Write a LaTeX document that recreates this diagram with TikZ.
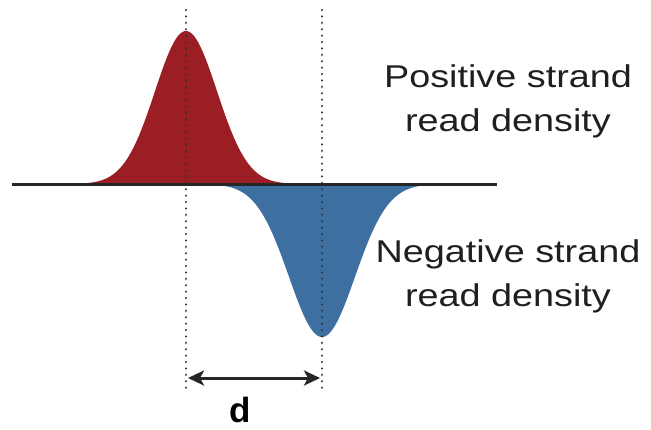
\documentclass[tikz,border=0pt]{standalone}
\usepackage{fontspec}
\setmainfont{Liberation Sans}
\usetikzlibrary{arrows.meta}
\definecolor{posred}{RGB}{155,30,36}
\definecolor{negblue}{RGB}{62,111,161}
\definecolor{guide}{RGB}{50,50,50}
\tikzset{
  lbl/.style={align=center, font=\fontsize{31.5}{44}\selectfont, text=black!88},
  guideline/.style={guide, line width=2.4pt, line cap=round, dash pattern=on 0.1pt off 6.3pt},
}
\begin{document}
\begin{tikzpicture}[x=1pt,y=-1pt]
\useasboundingbox (0,0) rectangle (651,429);
% densities
\fill[posred] plot[domain=70:300, samples=150, smooth] (\x, {184-153*exp(-((\x-186)/31)^2/2)}) -- cycle;
\fill[negblue] plot[domain=206:438, samples=150, smooth] (\x, {184+153*exp(-((\x-322)/33)^2/2)}) -- cycle;
% baseline
\coordinate (bl) at (12,184);
\coordinate (br) at (497,184);
\draw[line width=3pt, black!85] (bl) -- (br);
% guides
\coordinate (g1t) at (186,10);
\coordinate (g1b) at (186,392);
\coordinate (g2t) at (322,10);
\coordinate (g2b) at (322,392);
\draw[guideline] (g1t) -- (g1b);
\draw[guideline] (g2t) -- (g2b);
% distance arrow
\coordinate (a1) at (188,378);
\coordinate (a2) at (320,378);
\draw[line width=3pt, black!85, {Stealth[length=16pt,width=15pt,inset=4pt]}-{Stealth[length=16pt,width=15pt,inset=4pt]}] (a1) -- (a2);
\node[font=\fontsize{35}{40}\selectfont\bfseries, text=black, inner sep=0pt, anchor=base] (d) at (240,422) {d};
% labels
\node[lbl] (pos) at (508,101) {\scalebox{1.2}[1]{Positive strand}\\\scalebox{1.2}[1]{read density}};
\node[lbl] (neg) at (508,276) {\scalebox{1.2}[1]{Negative strand}\\\scalebox{1.2}[1]{read density}};
\end{tikzpicture}
\end{document}
